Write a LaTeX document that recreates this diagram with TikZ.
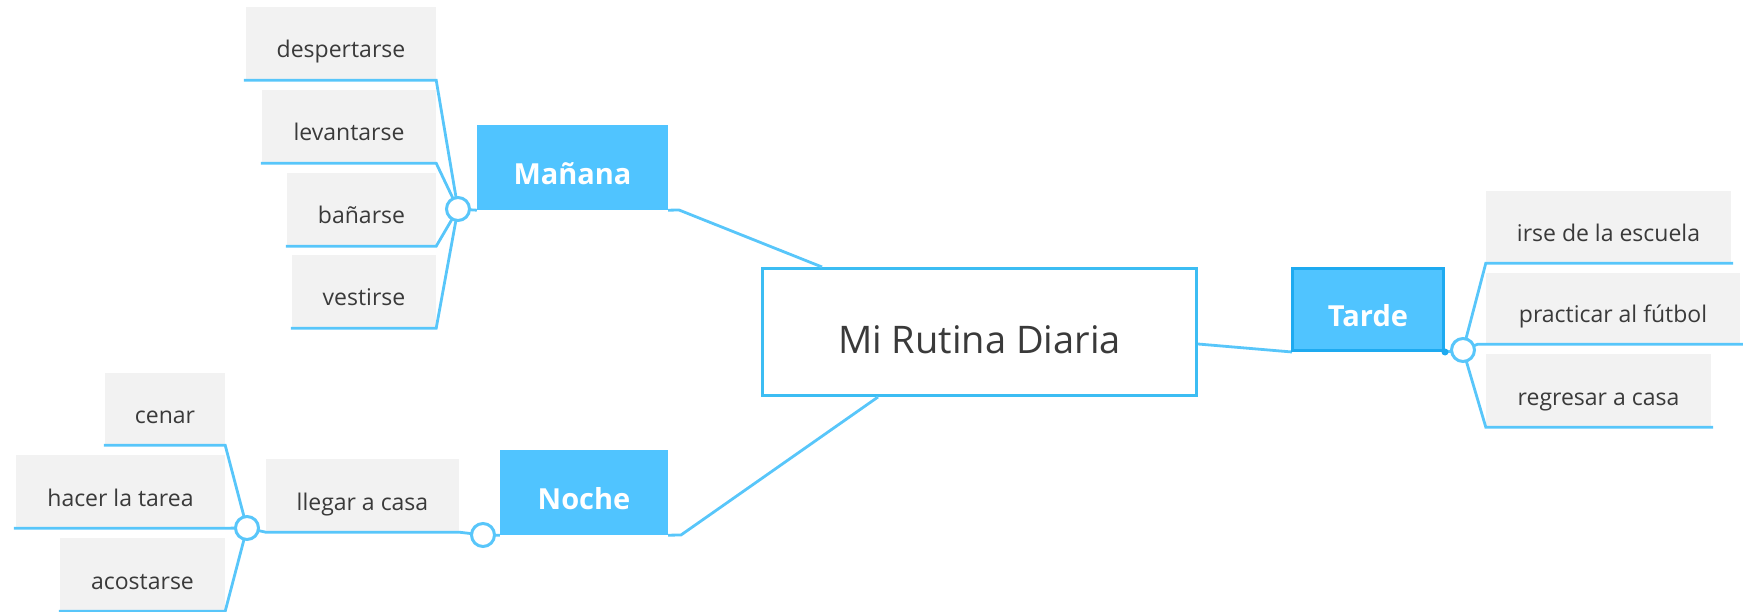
\documentclass[tikz,border=0pt]{standalone}
\usepackage{fontspec}
\setmainfont{Open Sans}
\definecolor{topicfill}{HTML}{50C4FF}
\definecolor{linkcol}{HTML}{58C6FA}
\definecolor{leaffill}{HTML}{F2F2F2}
\definecolor{txt}{HTML}{3A3A3A}
\definecolor{cborder}{HTML}{3CBDF3}
\definecolor{selcol}{HTML}{1EAAF0}
\begin{document}
\begin{tikzpicture}[x=1pt,y=-1pt,
  leafbox/.style={fill=leaffill, inner sep=0pt, minimum height=73pt, text=txt,
    font=\fontsize{23}{28}\selectfont, text height=33pt, text depth=4pt},
  topicbox/.style={fill=topicfill, inner sep=0pt, minimum height=85pt, text=white,
    font=\fontsize{29}{34}\selectfont\bfseries, text height=38pt, text depth=4pt},
  rootbox/.style={draw=cborder, line width=3pt, fill=white, inner sep=0pt,
    minimum width=434pt, minimum height=127pt, text=txt,
    font=\fontsize{38}{44}\selectfont, text height=46pt, text depth=4pt},
  link/.style={draw=linkcol, line width=2.8pt},
  hub/.style={circle, draw=linkcol, fill=white, line width=3pt, minimum size=23pt, inner sep=0pt},
]
\useasboundingbox (0,0) rectangle (1743,612);

% root
\node[rootbox] (root) at (979.5,332) {Mi Rutina Diaria};

% topics
\node[topicbox, minimum width=191pt] (man) at (572.5,167.5) {Mañana};
\node[topicbox, minimum width=168pt] (noc) at (584,492.5) {Noche};

% leaves Mañana
\node[leafbox, minimum width=190pt] (m1) at (341,43.5) {despertarse};
\node[leafbox, minimum width=174pt] (m2) at (349,126.5) {levantarse};
\node[leafbox, minimum width=149pt] (m3) at (361.5,209.5) {bañarse};
\node[leafbox, minimum width=144pt] (m4) at (364,291.5) {vestirse};

% leaves Noche
\node[leafbox, minimum width=120pt, minimum height=72pt] (n1) at (165,409) {cenar};
\node[leafbox, minimum width=209pt] (n2) at (120.5,491.5) {hacer la tarea};
\node[leafbox, minimum width=165pt] (n3) at (142.5,574.5) {acostarse};
\node[leafbox, minimum width=193pt] (ll) at (362.5,495.5) {llegar a casa};

% leaves Tarde
\node[leafbox, minimum width=245pt, minimum height=72pt] (t1) at (1608.5,227) {irse de la escuela};
\node[leafbox, minimum width=254pt, minimum height=71pt] (t2) at (1613,308.5) {practicar al fútbol};
\node[leafbox, minimum width=225pt] (t3) at (1598.5,390.5) {regresar a casa};

% hub centres
\coordinate (hmc) at (458,209);
\coordinate (hn1c) at (247,528);
\coordinate (hn2c) at (483,535);
\coordinate (htc) at (1463,350);
\coordinate (mk) at (679,210);
\coordinate (nk) at (681,535);

% connectors Mañana
\draw[link] ([xshift=-2pt]m1.south west) -- (m1.south east) -- (hmc);
\draw[link] ([xshift=-1pt]m2.south west) -- (m2.south east) -- (hmc);
\draw[link] ([xshift=-1pt]m3.south west) -- (m3.south east) -- (hmc);
\draw[link] ([xshift=-1pt]m4.south west) -- (m4.south east) -- (hmc);
\draw[link] (hmc) -- (man.south west);
\draw[link] (man.south east) -- (mk) -- ([xshift=61pt]root.north west);

% connectors Noche
\draw[link] ([xshift=-1pt]n1.south west) -- (n1.south east) -- (hn1c);
\draw[link] ([xshift=-2pt]n2.south west) -- (n2.south east) -- (hn1c);
\draw[link] ([xshift=-1pt]n3.south west) -- (n3.south east) -- (hn1c);
\draw[link] (hn1c) -- (ll.south west) -- (ll.south east) -- (hn2c) -- (noc.south west);
\draw[link] (noc.south east) -- (nk) -- ([xshift=117pt]root.south west);

% Tarde (drawn after links to it)
\draw[link] ([yshift=-12pt]root.east) -- (1292,352);
\node[topicbox, minimum width=151pt, minimum height=82pt, draw=selcol, line width=3pt] (tar) at (1368,309.5) {Tarde};
\draw[link] (tar.south east) -- (htc);
\draw[link] (htc) -- (t1.south west) -- ([xshift=2pt]t1.south east);
\draw[link] (htc) -- ([xshift=-8pt]t2.south west) -- ([xshift=4pt]t2.south east);
\draw[link] (htc) -- (t3.south west) -- ([xshift=2pt]t3.south east);
\fill[selcol] (tar.south east) circle (3.5);

% hubs
\node[hub] (hm) at (hmc) {};
\node[hub] (hn1) at (hn1c) {};
\node[hub] (hn2) at (hn2c) {};
\node[hub] (ht) at (htc) {};
\end{tikzpicture}
\end{document}
